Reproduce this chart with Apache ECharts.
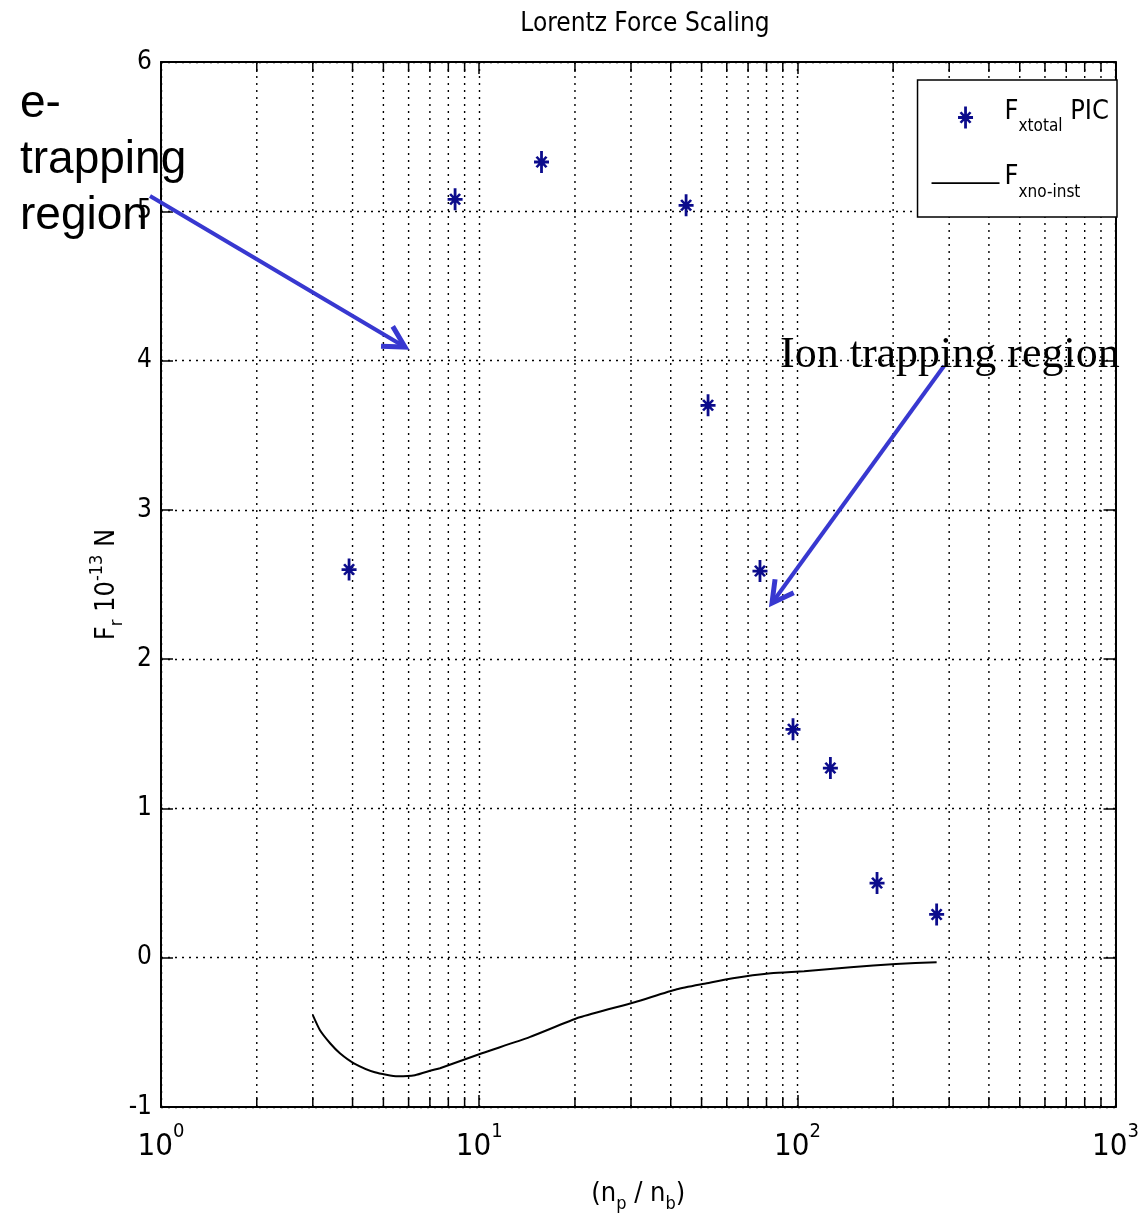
<!DOCTYPE html>
<html>
<head>
<meta charset="utf-8">
<script src="https://cdn.jsdelivr.net/npm/echarts@6/dist/echarts.min.js"></script>
<style>
  html, body { margin: 0; padding: 0; background: #fff; }
  #chart { width: 1142px; height: 1222px; }
</style>
</head>
<body>
<div id="chart"></div>
<script>
// PIC points (n_p / n_b, F_r in 1e-13 N)
var picX = [3.9, 8.4, 15.7, 44.7, 52.4, 76.3, 96.9, 127, 178, 274];
var picY = [2.6, 5.08, 5.33, 5.04, 3.70, 2.59, 1.53, 1.27, 0.50, 0.29];

// no-instability curve
var curveX = [3.0, 3.16, 3.4, 3.65, 4.04, 4.7, 5.55, 6.28, 7.1, 7.53, 10.2, 14.4, 20.7, 30.8, 41.8, 51.9, 62.7, 82.5, 105, 147, 204, 274];
var curveY = [-0.385, -0.486, -0.573, -0.64, -0.707, -0.767, -0.794, -0.787, -0.754, -0.74, -0.64, -0.532, -0.399, -0.298, -0.211, -0.171, -0.137, -0.104, -0.09, -0.064, -0.042, -0.03];

var minorX = [2, 3, 4, 5, 6, 7, 8, 9, 20, 30, 40, 50, 60, 70, 80, 90, 200, 300, 400, 500, 600, 700, 800, 900];

var FONT = "'Liberation Sans Narrow', 'DejaVu Sans Condensed', 'Liberation Sans', sans-serif";
var dotted = { color: "#000", width: 1.4, type: [2, 5] };

var chart = echarts.init(document.getElementById("chart"));

function arrow(x1, y1, x2, y2, color) {
  var a = Math.atan2(y2 - y1, x2 - x1);
  var L = 24, w = 0.5;
  return [
    { type: "line", shape: { x1: x1, y1: y1, x2: x2, y2: y2 }, style: { stroke: color, lineWidth: 4 }, z: 50 },
    {
      type: "polyline",
      shape: { points: [
        [x2 - L * Math.cos(a - w), y2 - L * Math.sin(a - w)],
        [x2, y2],
        [x2 - L * Math.cos(a + w), y2 - L * Math.sin(a + w)]
      ] },
      style: { stroke: color, lineWidth: 5, fill: null }, z: 50
    }
  ];
}

var rich = {
  b: { fontFamily: FONT, fontSize: 27, lineHeight: 38, color: "#000" },
  sup: { fontFamily: FONT, fontSize: 18, lineHeight: 18, verticalAlign: "top", color: "#000" },
  sub: { fontFamily: FONT, fontSize: 18, lineHeight: 18, verticalAlign: "bottom", color: "#000" }
};
var xRich = {
  b: { fontFamily: FONT, fontSize: 31, lineHeight: 50, color: "#000" },
  sup: { fontFamily: FONT, fontSize: 20, lineHeight: 20, verticalAlign: "top", color: "#000" }
};
var legRich = {
  b: { fontFamily: FONT, fontSize: 27, lineHeight: 48, color: "#000" },
  sub: { fontFamily: FONT, fontSize: 17, lineHeight: 17, verticalAlign: "bottom", color: "#000" }
};

// asterisk marker in a square 22x22 box (corner dots fix the box)
var star = "path://M0 0L0.01 0L0 0.01Z M22 22L21.99 22L22 21.99Z M9.6 0H12.4V22H9.6Z M3.5 9.6H18.5V12.4H3.5Z M5 6.5L7 5L17 15.5L15 17Z M15 5L17 6.5L7 17L5 15.5Z";
// thin line icon, with tiny corner marks so the box maps 1:1 to the legend item
var lineIcon = "path://M0 0L0.01 0L0 0.01Z M68 22L67.99 22L68 21.99Z M0 10.2H68V12H0Z";

var options = {
  backgroundColor: "#fff",
  animation: false,
  title: {
    text: "Lorentz Force Scaling",
    left: 640,
    textAlign: "center",
    top: 6,
    textStyle: { fontFamily: FONT, fontSize: 26, fontWeight: "normal", color: "#000" }
  },
  grid: { left: 161, right: 26, top: 62, bottom: 115 },
  legend: {
    data: [
      { name: "F_xtotal PIC" },
      { name: "F_xno-inst", icon: lineIcon, itemStyle: { color: "#000" } }
    ],
    orient: "vertical",
    right: 25,
    top: 80,
    backgroundColor: "#fff",
    borderColor: "#000",
    borderWidth: 1.5,
    borderRadius: 0,
    padding: [18, 8, 16, 14],
    itemWidth: 68,
    itemHeight: 22,
    itemGap: 28,
    formatter: function (name) {
      if (name === "F_xtotal PIC") return "{b|F}{sub|xtotal}{b| PIC}";
      return "{b|F}{sub|xno-inst}";
    },
    textStyle: { rich: legRich, padding: [0, 0, 12, 0] }
  },
  xAxis: [
    {
      type: "log",
      logBase: 10,
      min: 1,
      max: 1000,
      name: "{b|(n}{sub|p}{b| / n}{sub|b}{b|)}",
      nameLocation: "middle",
      nameGap: 68,
      nameTextStyle: { rich: rich },
      axisLine: { show: true, onZero: false, lineStyle: { color: "#000", width: 2 } },
      axisTick: { show: true, inside: true, length: 12, lineStyle: { color: "#000", width: 1.5 } },
      axisLabel: {
        margin: 15,
        formatter: function (v) {
          return "{b|10}{sup|" + Math.round(Math.log10(v)) + "}";
        },
        rich: xRich
      },
      splitLine: { show: true, lineStyle: dotted },
      minorTick: { show: false },
      minorSplitLine: { show: false }
    },
    {
      type: "log",
      logBase: 10,
      min: 1,
      max: 1000,
      position: "top",
      axisLine: { show: true, onZero: false, lineStyle: { color: "#000", width: 2 } },
      axisTick: { show: true, inside: true, length: 12, lineStyle: { color: "#000", width: 1.5 } },
      axisLabel: { show: false },
      splitLine: { show: false }
    }
  ],
  yAxis: [
    {
      type: "value",
      min: -1,
      max: 6,
      interval: 1,
      name: "{b|F}{sub|r}{b| 10}{sup|-13}{b| N}",
      nameLocation: "middle",
      nameRotate: 90,
      nameGap: 35,
      nameMoveOverlap: false,
      nameTextStyle: { rich: rich },
      axisLine: { show: true, onZero: false, lineStyle: { color: "#000", width: 2 } },
      axisTick: { show: true, inside: true, length: 12, lineStyle: { color: "#000", width: 1.5 } },
      axisLabel: { margin: 9, fontFamily: FONT, fontSize: 26, color: "#000" },
      splitLine: { show: true, lineStyle: dotted }
    },
    {
      type: "value",
      min: -1,
      max: 6,
      interval: 1,
      position: "right",
      axisLine: { show: true, onZero: false, lineStyle: { color: "#000", width: 2 } },
      axisTick: { show: true, inside: true, length: 12, lineStyle: { color: "#000", width: 1.5 } },
      axisLabel: { show: false },
      splitLine: { show: false }
    }
  ],
  series: [
    {
      // minor decade grid lines and ticks
      type: "custom",
      silent: true,
      data: minorX.map(function (v) { return [v]; }),
      encode: { x: 0 },
      renderItem: function (params, api) {
        var b = api.coord([api.value(0), -1]);
        var t = api.coord([api.value(0), 6]);
        return {
          type: "group",
          children: [
            { type: "line", shape: { x1: b[0], y1: b[1], x2: t[0], y2: t[1] }, style: { stroke: "#000", lineWidth: 1.4, lineDash: [2, 5] } },
            { type: "line", shape: { x1: b[0], y1: b[1], x2: b[0], y2: b[1] - 10 }, style: { stroke: "#000", lineWidth: 1.5 } },
            { type: "line", shape: { x1: t[0], y1: t[1], x2: t[0], y2: t[1] + 10 }, style: { stroke: "#000", lineWidth: 1.5 } }
          ]
        };
      },
      z: 1
    },
    {
      name: "F_xtotal PIC",
      type: "scatter",
      data: picX.map(function (x, i) { return [x, picY[i]]; }),
      symbol: star,
      symbolSize: 22,
      itemStyle: { color: "#0c0c8c", opacity: 1 },
      z: 5
    },
    {
      name: "F_xno-inst",
      type: "line",
      data: curveX.map(function (x, i) { return [x, curveY[i]]; }),
      smooth: 0.2,
      showSymbol: false,
      symbol: "none",
      lineStyle: { color: "#000", width: 2 },
      itemStyle: { color: "#000" },
      z: 4
    }
  ],
  graphic: [
    {
      type: "text",
      left: 20,
      top: 76,
      z: 60,
      style: {
        text: "e-\ntrapping\nregion",
        font: "46px 'Liberation Sans', Arial, sans-serif",
        lineHeight: 56,
        fill: "#000"
      }
    },
    {
      type: "text",
      left: 780,
      top: 333,
      z: 60,
      style: {
        text: "Ion trapping region",
        font: "44px 'Liberation Serif', 'Times New Roman', serif",
        fill: "#000"
      }
    }
  ].concat(arrow(150, 196, 405, 347, "#3838d0"), arrow(944, 366, 772, 603, "#3838d0"))
};

chart.setOption(options, true);
</script>
</body>
</html>
